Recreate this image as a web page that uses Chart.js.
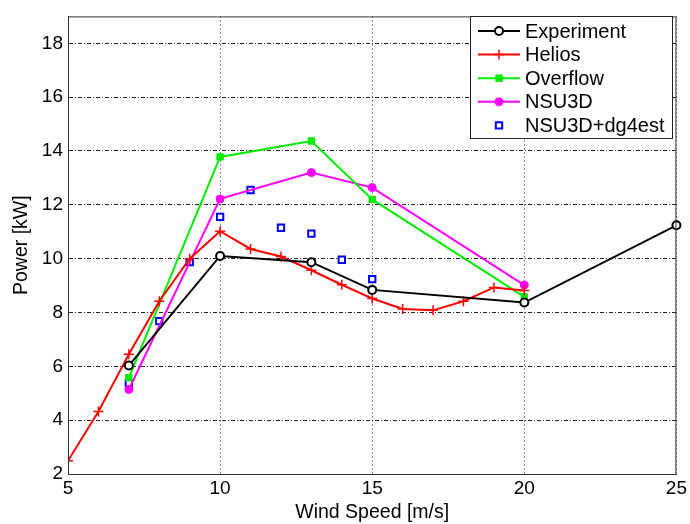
<!DOCTYPE html>
<html>
<head>
<meta charset="utf-8">
<script src="https://cdn.jsdelivr.net/npm/chart.js@4.4.0/dist/chart.umd.min.js"></script>
<style>
  html, body { margin: 0; padding: 0; background: #fff; }
  #wrap { width: 690px; height: 524px; }
</style>
</head>
<body>
<div id="wrap"><canvas id="chart" width="690" height="524"></canvas></div>
<script>
// wind speeds [m/s] and power [kW]
const expSpeed = [7, 10, 13, 15, 20, 25];
const expPower = [6.03, 10.1, 9.87, 8.84, 8.37, 11.24];

const heliosSpeed = [5, 6, 7, 8, 9, 10, 11, 12, 13, 14, 15, 16, 17, 18, 19, 20];
const heliosPower = [2.49, 4.32, 6.45, 8.42, 10.0, 11.02, 10.36, 10.08, 9.57, 9.03, 8.52, 8.13, 8.08, 8.42, 8.93, 8.82];

const overflowSpeed = [7, 10, 13, 15, 20];
const overflowPower = [5.58, 13.78, 14.37, 12.2, 8.58];

const nsuSpeed = [7, 10, 13, 15, 20];
const nsuPower = [5.14, 12.22, 13.2, 12.64, 9.02];

const dgSpeed = [7, 8, 9, 10, 11, 12, 13, 14, 15];
const dgPower = [5.37, 7.68, 9.87, 11.55, 12.55, 11.15, 10.93, 9.96, 9.24];

const xTicks = [5, 10, 15, 20, 25];
const yTicks = [2, 4, 6, 8, 10, 12, 14, 16, 18];

const pts = (xs, ys) => xs.map((x, i) => ({ x: x, y: ys[i] }));

// frame + legend drawn inside the plot box, matlab style
const boxLegend = {
  id: 'boxLegend',
  afterDatasetsDraw(chart) {
    const ctx = chart.ctx;
    const area = chart.chartArea;
    ctx.save();
    ctx.strokeStyle = '#333';
    ctx.lineWidth = 1;
    ctx.strokeRect(area.left + 0.5, area.top + 0.5, area.right - area.left - 1, area.bottom - area.top);

    const x0 = 470, y0 = 16, w = 202, h = 122;
    ctx.fillStyle = '#fff';
    ctx.fillRect(x0, y0, w, h);
    ctx.strokeStyle = '#222';
    ctx.strokeRect(x0 + 0.5, y0 + 0.5, w, h);
    ctx.font = '20px "Liberation Sans", Arial, sans-serif';
    ctx.textBaseline = 'middle';
    chart.data.datasets.forEach((ds, i) => {
      const y = y0 + 15 + i * 23.6;
      if (ds.showLine !== false) {
        ctx.strokeStyle = ds.borderColor;
        ctx.lineWidth = 2;
        ctx.beginPath();
        ctx.moveTo(x0 + 8, y);
        ctx.lineTo(x0 + 50, y);
        ctx.stroke();
      }
      ctx.save();
      ctx.fillStyle = ds.pointBackgroundColor;
      ctx.strokeStyle = ds.pointBorderColor;
      ctx.lineWidth = ds.pointBorderWidth;
      Chart.helpers.drawPoint(ctx, {
        pointStyle: ds.pointStyle,
        radius: ds.pointRadius,
        borderWidth: ds.pointBorderWidth
      }, x0 + 29, y);
      ctx.restore();
      ctx.fillStyle = '#000';
      ctx.fillText(ds.label, x0 + 55, y + 1);
    });
    ctx.restore();
  }
};

const font = { family: '"Liberation Sans", Arial, sans-serif' };

new Chart(document.getElementById('chart'), {
  type: 'scatter',
  data: {
    datasets: [
      {
        label: 'Experiment',
        data: pts(expSpeed, expPower),
        showLine: true,
        clip: false,
        borderColor: '#000',
        borderWidth: 2,
        pointStyle: 'circle',
        pointRadius: 4,
        pointBorderWidth: 2,
        pointBorderColor: '#000',
        pointBackgroundColor: '#fff'
      },
      {
        label: 'Helios',
        data: pts(heliosSpeed, heliosPower),
        showLine: true,
        borderColor: '#ff0000',
        borderWidth: 2,
        pointStyle: 'cross',
        pointRadius: 5,
        pointBorderWidth: 1.5,
        pointBorderColor: '#ff0000',
        pointBackgroundColor: '#ff0000'
      },
      {
        label: 'Overflow',
        data: pts(overflowSpeed, overflowPower),
        showLine: true,
        borderColor: '#00ee00',
        borderWidth: 2,
        pointStyle: 'rect',
        pointRadius: 4.5,
        pointBorderWidth: 1,
        pointBorderColor: '#00ee00',
        pointBackgroundColor: '#00ee00'
      },
      {
        label: 'NSU3D',
        data: pts(nsuSpeed, nsuPower),
        showLine: true,
        borderColor: '#ff00ff',
        borderWidth: 2,
        pointStyle: 'circle',
        pointRadius: 4,
        pointBorderWidth: 1,
        pointBorderColor: '#ff00ff',
        pointBackgroundColor: '#ff00ff'
      },
      {
        label: 'NSU3D+dg4est',
        data: pts(dgSpeed, dgPower),
        showLine: false,
        borderColor: '#0000ff',
        pointStyle: 'rect',
        pointRadius: 4.5,
        pointBorderWidth: 2,
        pointBorderColor: '#0000ff',
        pointBackgroundColor: '#fff'
      }
    ]
  },
  options: {
    responsive: false,
    animation: false,
    layout: { padding: { left: 0, right: 10, top: 10, bottom: 0 } },
    plugins: {
      legend: { display: false },
      tooltip: { enabled: false }
    },
    scales: {
      x: {
        type: 'linear',
        min: 5,
        max: 25,
        afterBuildTicks: (axis) => { axis.ticks = xTicks.map(v => ({ value: v })); },
        afterFit: (axis) => { axis.height = 50; },
        ticks: { color: '#000', font: { ...font, size: 19 }, padding: 3, maxRotation: 0 },
        grid: { color: '#222', lineWidth: 1, drawTicks: false },
        border: { display: true, color: '#333', dash: [1, 3] },
        title: {
          display: true,
          text: 'Wind Speed [m/s]',
          color: '#000',
          font: { ...font, size: 19.5 },
          padding: { top: 0, bottom: 0 }
        }
      },
      y: {
        type: 'linear',
        min: 2,
        max: 19,
        afterBuildTicks: (axis) => { axis.ticks = yTicks.map(v => ({ value: v })); },
        afterFit: (axis) => { axis.width = 68; },
        ticks: { color: '#000', font: { ...font, size: 19 }, padding: 5 },
        grid: { color: '#222', lineWidth: 1, drawTicks: false },
        border: { display: true, color: '#333', dash: [4, 2, 1, 2] },
        title: {
          display: true,
          text: 'Power [kW]',
          color: '#000',
          font: { ...font, size: 19.5 },
          padding: { top: 10, bottom: 0 }
        }
      }
    }
  },
  plugins: [boxLegend]
});
</script>
</body>
</html>
